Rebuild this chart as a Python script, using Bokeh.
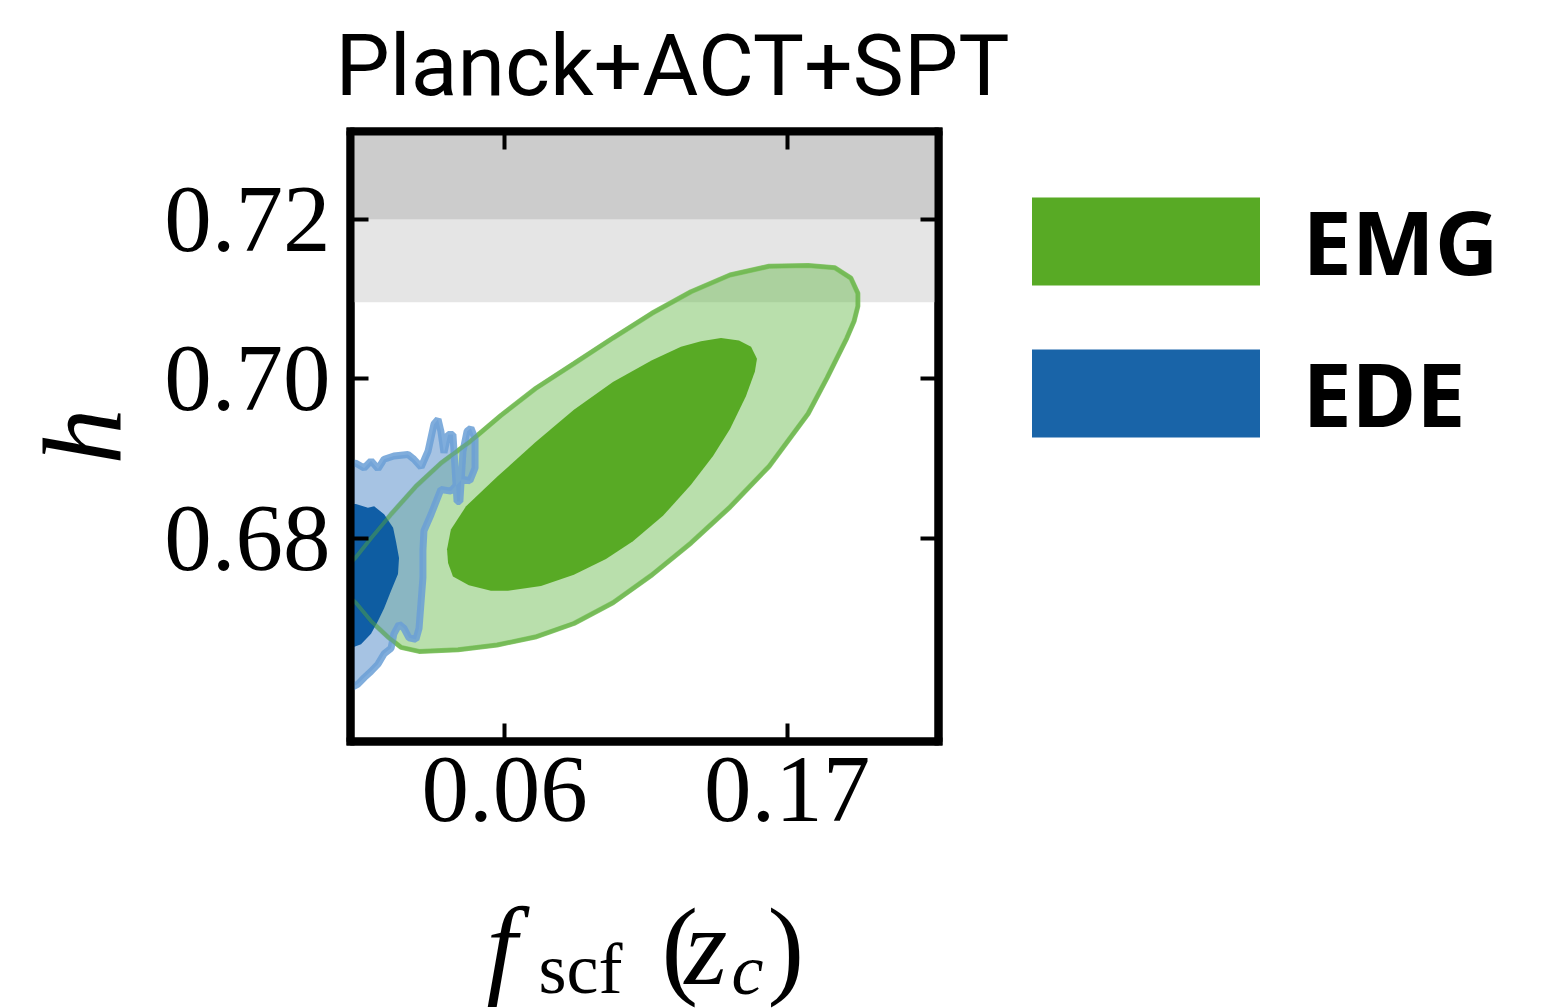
from bokeh.plotting import figure
from bokeh.layouts import column
from bokeh.models import (ColumnDataSource, BoxAnnotation, Legend, LegendItem,
                          LinearAxis, FixedTicker, PrintfTickFormatter, Range1d)
from bokeh.core.properties import value
from bokeh.embed import file_html
from bokeh.resources import INLINE

# ---------------- data ----------------
title_text = "Planck+ACT+SPT"
x_label_parts = ["f", "scf", "(", "z", "c", ")"]
y_label_text = "h"
x_ticks = [0.06, 0.17]
y_ticks = [0.68, 0.70, 0.72]
x_limits = (0.0, 0.229)
y_limits = (0.6545, 0.7310)

# SH0ES band on h
shoes_h_mean = 0.7304
shoes_h_sigma = 0.0104

series_names = ["EMG", "EDE"]

# EMG 95% contour (f_scf, h)
emg_outer_fscf = [0.0, 0.0021, 0.0080, 0.0158, 0.0255, 0.0352, 0.0469, 0.0586, 0.0722, 0.0870,
                  0.1022, 0.1174, 0.1326, 0.1478, 0.1630, 0.1782, 0.1887, 0.1949, 0.1976, 0.1976,
                  0.1961, 0.1933, 0.1856, 0.1782, 0.1630, 0.1478, 0.1326, 0.1174, 0.1022, 0.0870,
                  0.0719, 0.0571, 0.0419, 0.0267, 0.0197, 0.0146, 0.0080, 0.0021, 0.0]
emg_outer_h = [0.6769, 0.6776, 0.6800, 0.6830, 0.6865, 0.6894, 0.6922, 0.6954, 0.6988, 0.7019,
               0.7051, 0.7082, 0.7109, 0.7130, 0.7141, 0.7142, 0.7139, 0.7126, 0.7107, 0.7091,
               0.7072, 0.7051, 0.7001, 0.6956, 0.6890, 0.6839, 0.6794, 0.6754, 0.6719, 0.6693,
               0.6676, 0.6666, 0.6660, 0.6658, 0.6663, 0.6676, 0.6696, 0.6719, 0.6725]

# EMG 68% contour
emg_inner_fscf = [0.0380, 0.0399, 0.0461, 0.0547, 0.0613, 0.0742, 0.0870, 0.0995, 0.1100, 0.1217,
                  0.1326, 0.1412, 0.1478, 0.1540, 0.1575, 0.1583, 0.1560, 0.1513, 0.1443, 0.1365,
                  0.1287, 0.1174, 0.1022, 0.0870, 0.0719, 0.0571, 0.0450, 0.0391, 0.0376]
emg_inner_h = [0.6769, 0.6752, 0.6741, 0.6734, 0.6734, 0.6740, 0.6754, 0.6774, 0.6796, 0.6828,
               0.6867, 0.6903, 0.6937, 0.6978, 0.7009, 0.7025, 0.7040, 0.7048, 0.7051, 0.7047,
               0.7040, 0.7023, 0.6996, 0.6961, 0.6920, 0.6877, 0.6840, 0.6811, 0.6786]

# EDE 95% contour
ede_outer_fscf = [0.0, 0.0021, 0.0053, 0.0080, 0.0107, 0.0131, 0.0169, 0.0224, 0.0247, 0.0275,
                  0.0302, 0.0325, 0.0341, 0.0352, 0.0364, 0.0380, 0.0399, 0.0407, 0.0415, 0.0426,
                  0.0438, 0.0454, 0.0469, 0.0485, 0.0485, 0.0465, 0.0434, 0.0391, 0.0352, 0.0314,
                  0.0286, 0.0282, 0.0282, 0.0275, 0.0267, 0.0255, 0.0228, 0.0208, 0.0189, 0.0169,
                  0.0158, 0.0131, 0.0107, 0.0080, 0.0053, 0.0029, 0.0]
ede_outer_h = [0.6894, 0.6894, 0.6888, 0.6897, 0.6887, 0.6899, 0.6903, 0.6905, 0.6899, 0.6889,
               0.6909, 0.6943, 0.6949, 0.6934, 0.6907, 0.6930, 0.6930, 0.6889, 0.6846, 0.6846,
               0.6909, 0.6934, 0.6938, 0.6925, 0.6888, 0.6872, 0.6874, 0.6859, 0.6861, 0.6830,
               0.6809, 0.6784, 0.6750, 0.6721, 0.6687, 0.6673, 0.6675, 0.6687, 0.6692, 0.6680,
               0.6662, 0.6655, 0.6642, 0.6633, 0.6625, 0.6617, 0.6612]

# EDE 68% contour
ede_inner_fscf = [0.0, 0.0021, 0.0068, 0.0092, 0.0131, 0.0166, 0.0177, 0.0189, 0.0185, 0.0158,
                  0.0131, 0.0107, 0.0080, 0.0041, 0.0]
ede_inner_h = [0.6843, 0.6843, 0.6838, 0.6840, 0.6830, 0.6813, 0.6796, 0.6775, 0.6755, 0.6734,
               0.6712, 0.6696, 0.6680, 0.6667, 0.6662]

# ---------------- layout sizes ----------------
W, H = 1547, 1008
FL, FT, FW, FH = 350, 131, 588, 610
FR = W - FL - FW
MAIN_BOTTOM = 122
main_h = FT + FH + MAIN_BOTTOM
strip_h = H - main_h
STRIP_FRAME_TOP = 898    # page y where the strip's drawing area begins

# ---------------- main figure ----------------
p = figure(frame_width=FW, frame_height=FH,
           min_border_left=FL, min_border_right=FR, min_border_top=FT, min_border_bottom=MAIN_BOTTOM,
           x_range=Range1d(*x_limits), y_range=Range1d(*y_limits),
           output_backend="svg", toolbar_location=None)
p.background_fill_color = "white"
p.border_fill_color = "white"
p.grid.visible = False
p.outline_line_color = "black"
p.outline_line_width = 8

p.title.text = title_text
p.title.align = "left"
p.title.vertical_align = "top"
p.title.offset = -15
p.title.standoff = 27
p.title.text_font = "Roboto"
p.title.text_font_style = "normal"
p.title.text_font_size = "86px"
p.title.text_color = "black"

# SH0ES bands
p.add_layout(BoxAnnotation(bottom=shoes_h_mean - 2 * shoes_h_sigma, top=shoes_h_mean + 2 * shoes_h_sigma,
                           fill_color="#e5e5e5", fill_alpha=1.0, line_color=None, level="underlay"))
p.add_layout(BoxAnnotation(bottom=shoes_h_mean - shoes_h_sigma, top=shoes_h_mean + shoes_h_sigma,
                           fill_color="#cccccc", fill_alpha=1.0, line_color=None, level="underlay"))

src_emg_out = ColumnDataSource(dict(x=emg_outer_fscf, y=emg_outer_h))
src_emg_in = ColumnDataSource(dict(x=emg_inner_fscf, y=emg_inner_h))
src_ede_out = ColumnDataSource(dict(x=ede_outer_fscf, y=ede_outer_h))
src_ede_in = ColumnDataSource(dict(x=ede_inner_fscf, y=ede_inner_h))

p.patch("x", "y", source=src_emg_out, fill_color="#64b946", fill_alpha=0.45,
        line_color="#84c566", line_width=5, line_alpha=0.9)
r_emg = p.patch("x", "y", source=src_emg_in, fill_color="#58aa25", fill_alpha=1.0, line_color=None)
p.patch("x", "y", source=src_ede_out, fill_color="#6b9bd0", fill_alpha=0.6,
        line_color="#6a9fd6", line_width=7, line_alpha=0.85)
r_ede = p.patch("x", "y", source=src_ede_in, fill_color="#00539f", fill_alpha=0.9, line_color=None)
p.patch("x", "y", source=src_emg_out, fill_color=None, line_color="#5aab3a", line_width=4, line_alpha=0.45)

# axes
tick_style = dict(axis_line_color="black", axis_line_width=8, axis_line_cap="square",
                  major_tick_in=18, major_tick_out=0, major_tick_line_width=4,
                  major_tick_line_color="black", minor_tick_line_color=None)
for ax in (p.xaxis[0], p.yaxis[0]):
    for k, v in tick_style.items():
        setattr(ax, k, v)
    ax.major_label_text_font = "Liberation Serif"
    ax.major_label_text_font_size = "95px"
    ax.major_label_text_color = "black"
    ax.formatter = PrintfTickFormatter(format="%.2f")
p.xaxis[0].ticker = FixedTicker(ticks=x_ticks)
p.yaxis[0].ticker = FixedTicker(ticks=y_ticks)
p.xaxis[0].major_label_standoff = 16
p.yaxis[0].major_label_standoff = 20

p.yaxis[0].axis_label = y_label_text
p.yaxis[0].axis_label_text_font = "Liberation Serif"
p.yaxis[0].axis_label_text_font_style = "italic"
p.yaxis[0].axis_label_text_font_size = "112px"
p.yaxis[0].axis_label_text_color = "black"
p.yaxis[0].axis_label_standoff = 16

hidden = dict(major_label_text_color=None, major_label_text_font_size="1px", major_label_standoff=0)
p.add_layout(LinearAxis(ticker=FixedTicker(ticks=y_ticks), **hidden, **tick_style), "right")
p.add_layout(LinearAxis(ticker=FixedTicker(ticks=x_ticks), **hidden, **tick_style), "above")

legend = Legend(items=[LegendItem(label=series_names[0], renderers=[r_emg]),
                       LegendItem(label=series_names[1], renderers=[r_ede])],
                location=(-43, 288), orientation="vertical", glyph_width=285, glyph_height=110,
                spacing=32, padding=0, margin=0, label_standoff=15,
                label_text_font="Noto Sans", label_text_font_style="bold", label_text_font_size="88px",
                label_text_color="black", label_text_baseline="middle",
                border_line_color=None, background_fill_alpha=0)
p.add_layout(legend, "right")

# ---------------- strip under the plot: x-axis label ----------------
q = figure(frame_width=FW, frame_height=strip_h, title=None,
           min_border_left=FL, min_border_right=FR, min_border_top=0, min_border_bottom=0,
           x_range=p.x_range, y_range=Range1d(strip_h, 0),
           output_backend="svg", toolbar_location=None,
           x_axis_location=None, y_axis_location=None)
q.outline_line_color = None
q.grid.visible = False
q.background_fill_color = "white"
q.border_fill_color = "white"

def px_to_fscf(px):
    return x_limits[0] + (px - FL) / FW * (x_limits[1] - x_limits[0])

# x-axis label pieces (page px: left, baseline)
piece_sx = [486, 538, 661, 684, 731, 767]
piece_sy = [981, 1003, 981, 981, 1004, 981]
piece_size = ["110px", "72px", "110px", "110px", "72px", "110px"]
piece_style = ["italic", "normal", "normal", "italic", "italic", "normal"]
src_lab = ColumnDataSource(dict(x=[px_to_fscf(s) for s in piece_sx],
                                y=[s - STRIP_FRAME_TOP for s in piece_sy],
                                text=x_label_parts, size=piece_size, style=piece_style))
q.text(x="x", y="y", text="text", source=src_lab, text_font=value("Liberation Serif"),
       text_font_size="size", text_font_style="style", text_align="left",
       text_baseline="alphabetic", text_color="black")

layout = column(p, q, spacing=0)
open("out.html", "w").write(file_html(layout, INLINE))
